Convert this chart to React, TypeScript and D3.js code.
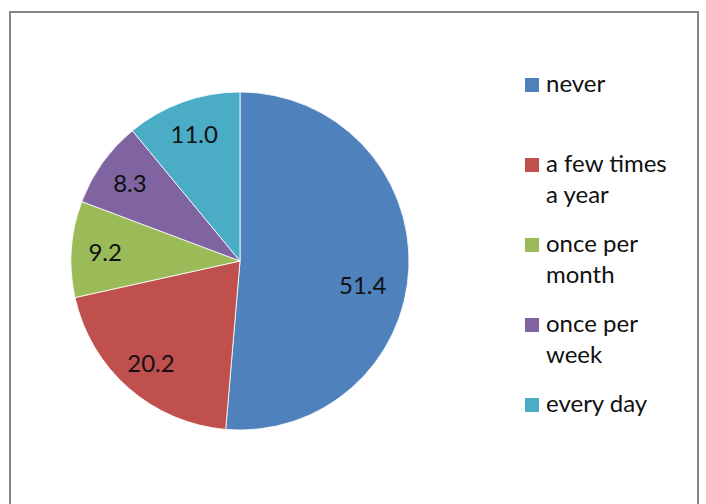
import * as d3 from "d3";
import { useEffect, useRef } from "react";

const categories = ["never", "a few times a year", "once per month", "once per week", "every day"];
const values = [51.4, 20.2, 9.2, 8.3, 11.0];
const legendLines = [["never"], ["a few times", "a year"], ["once per", "month"], ["once per", "week"], ["every day"]];
const colors = ["#4F81BD", "#C0504D", "#9BBB59", "#8064A2", "#4BACC6"];

export default function App() {
  const ref = useRef<SVGSVGElement>(null);

  useEffect(() => {
    const width = 706;
    const height = 504;
    const cx = 240;
    const cy = 261;
    const r = 169;

    const svg = d3.select(ref.current);
    svg.selectAll("*").remove();

    // chart frame (bottom edge is off the page)
    svg
      .append("rect")
      .attr("x", 10)
      .attr("y", 12)
      .attr("width", 688)
      .attr("height", 520)
      .attr("fill", "white")
      .attr("stroke", "#868686")
      .attr("stroke-width", 2);

    const pie = d3
      .pie<number>()
      .sort(null)
      .value((d) => d);
    const arcs = pie(values);
    const arc = d3.arc<d3.PieArcDatum<number>>().innerRadius(0).outerRadius(r);
    // big slices get their label pulled in a bit (like excel's best fit)
    const labelPos = (d: d3.PieArcDatum<number>) => {
      const k = d.data > 30 ? 0.74 : 0.8;
      const a = (d.startAngle + d.endAngle) / 2 + (d.data > 30 ? 0.15 : 0);
      return [Math.sin(a) * r * k, -Math.cos(a) * r * k];
    };

    const g = svg.append("g").attr("transform", `translate(${cx},${cy})`);

    g.selectAll("path")
      .data(arcs)
      .join("path")
      .attr("d", arc)
      .attr("fill", (_, i) => colors[i])
      .attr("stroke", "white")
      .attr("stroke-width", 0.8)
      .attr("aria-label", (_, i) => categories[i]);

    g.selectAll("text")
      .data(arcs)
      .join("text")
      .attr("transform", (d) => {
        const [x, y] = labelPos(d);
        return `translate(${x},${y})`;
      })
      .attr("text-anchor", "middle")
      .attr("dominant-baseline", "central")
      .attr("font-size", 24)
      .attr("fill", "#111")
      .text((d) => d.data.toFixed(1));

    // legend
    const legend = svg.append("g").attr("transform", "translate(525,92)");
    const item = legend
      .selectAll("g")
      .data(legendLines)
      .join("g")
      .attr("transform", (_, i) => `translate(0,${i * 80})`);

    item
      .append("rect")
      .attr("x", 0)
      .attr("y", -14)
      .attr("width", 14)
      .attr("height", 14)
      .attr("fill", (_, i) => colors[i]);

    item
      .append("text")
      .attr("font-size", 24)
      .attr("fill", "#111")
      .selectAll("tspan")
      .data((d) => d)
      .join("tspan")
      .attr("x", 21)
      .attr("y", (_, j) => j * 31)
      .text((d) => d);

    svg.attr("width", width).attr("height", height);
  }, []);

  return (
    <div style={{ position: "absolute", left: 0, top: 0, width: 706, height: 504, background: "white" }}>
      <svg ref={ref} width={706} height={504} style={{ display: "block", fontFamily: "Lato, 'Open Sans', sans-serif" }} />
    </div>
  );
}
